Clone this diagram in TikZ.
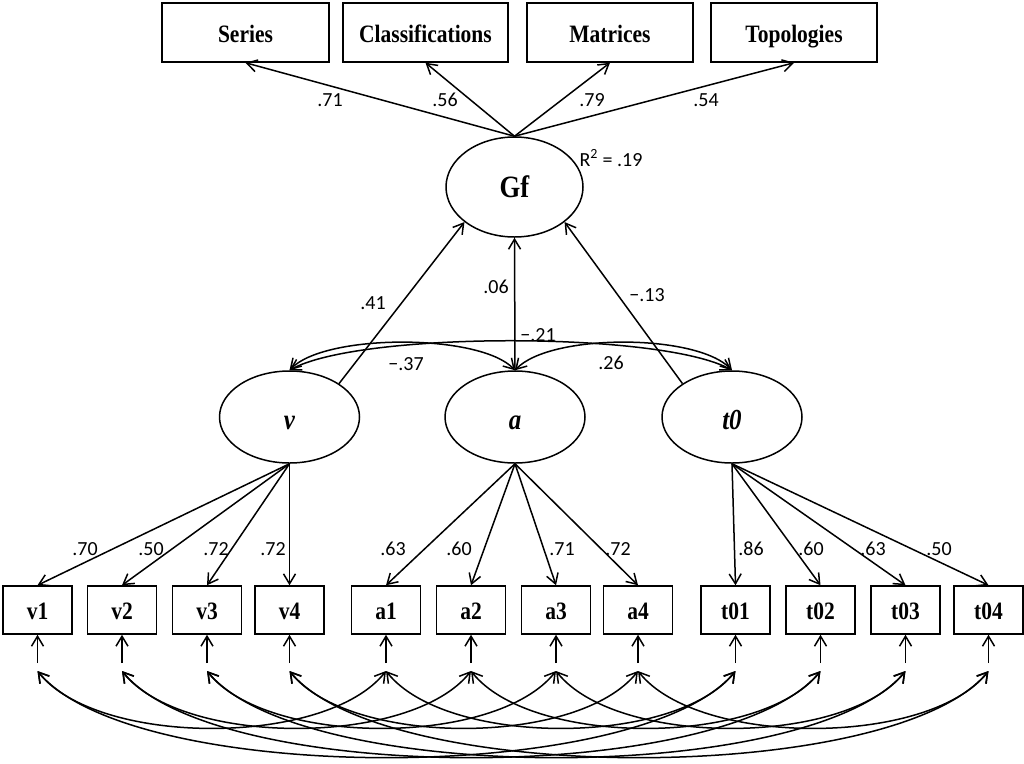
\documentclass[tikz,border=0pt]{standalone}
\usepackage{fontspec}
\setmainfont{Liberation Serif}
\newfontfamily\numfont{Carlito}
\newfontfamily\boxfont[FakeStretch=0.86]{Liberation Serif}
\usetikzlibrary{arrows.meta,shapes.geometric}
\begin{document}
\begin{tikzpicture}[x=1pt,y=-1pt, line width=1.5pt,
  >={Straight Barb[length=10pt,width=12pt]},
  obs/.style={draw, rectangle, minimum width=69pt, minimum height=48pt, inner sep=0pt, text height=20pt, text depth=1pt, font=\boxfont\fontsize{25}{27}\selectfont\bfseries},
  topbox/.style={draw, rectangle, minimum width=166pt, minimum height=59pt, inner sep=0pt, text height=20pt, text depth=1pt, font=\boxfont\fontsize{25}{27}\selectfont\bfseries},
  lat/.style={draw, ellipse, minimum width=140pt, minimum height=92pt, inner sep=0pt, text height=27pt, text depth=2pt, font=\boxfont\fontsize{29}{31}\selectfont\bfseries\itshape},
  num/.style={inner sep=0pt, font=\numfont\fontsize{20}{22}\selectfont}]
\useasboundingbox (0,0) rectangle (1024,763);
\fill[white] (0,0) rectangle (1024,763);

% top indicators
\node[topbox, minimum width=167pt] (series) at (245.5,32.5) {Series};
\node[topbox, minimum width=165pt] (class) at (425.5,32.5) {Classifications};
\node[topbox] (matrices) at (610,32.5) {Matrices};
\node[topbox] (topo) at (794,32.5) {Topologies};

% Gf
\node[lat, font=\boxfont\fontsize{31}{33}\selectfont\bfseries, text height=23pt, text depth=2pt, minimum width=137pt, minimum height=100pt] (gf) at (514.5,187) {Gf};
\node[num] (r2) at (611,158) {R\textsuperscript{2} = .19};

\foreach \n in {series,class,matrices,topo} \draw[->] (gf.north) -- (\n.south);
\node[num] (l71) at (330,100) {.71};
\node[num] (l56) at (445,100) {.56};
\node[num] (l79) at (592,100) {.79};
\node[num] (l54) at (706,100) {.54};

% latent factors
\node[lat] (v) at (289.5,417) {v};
\node[lat] (a) at (515,417) {a};
\node[lat, text height=26pt] (t0) at (732,417) {t0};

\draw[->] (v.34) -- (gf.215);
\draw[->] (a.north) -- (gf.south);
\draw[->] (t0.146) -- (gf.325);
\node[num] (l41) at (373,303) {.41};
\node[num] (l06) at (496,287) {.06};
\node[num] (l13) at (647,295) {−.13};

\draw[<->] (v.north) .. controls +(70,-39) and +(-70,-39) .. (t0.north);
\draw[<->] (v.north) .. controls +(35,-37) and +(-35,-37) .. (a.north);
\draw[<->] (a.north) .. controls +(35,-37) and +(-35,-37) .. (t0.north);
\node[num] (l21) at (538,335) {−.21};
\node[num] (l37) at (406,364) {−.37};
\node[num] (l26) at (611,363) {.26};

% observed indicators
\foreach \n/\x in {v1/37.5,v2/122,v3/207,v4/289.5,a1/386,a2/471,a3/556,a4/638,t01/735.5,t02/820.5,t03/905.5,t04/988.5}{
  \node[obs] (\n) at (\x,610) {\n};
  \coordinate (e\n) at (\x,663);
  \coordinate (c\n) at (\x,671);
  \draw[->] (e\n) -- (\n.south);
}
\foreach \n in {v1,v2,v3,v4} \draw[->] (v.south) -- (\n.north);
\foreach \n in {a1,a2,a3,a4} \draw[->] (a.south) -- (\n.north);
\foreach \n in {t01,t02,t03,t04} \draw[->] (t0.south) -- (\n.north);

\node[num] (lv1) at (85,549) {.70};
\node[num] (lv2) at (151,549) {.50};
\node[num] (lv3) at (216,549) {.72};
\node[num] (lv4) at (273,549) {.72};
\node[num] (la1) at (393,549) {.63};
\node[num] (la2) at (459,549) {.60};
\node[num] (la3) at (562,549) {.71};
\node[num] (la4) at (618,549) {.72};
\node[num] (lt1) at (751,549) {.86};
\node[num] (lt2) at (811,549) {.60};
\node[num] (lt3) at (873,549) {.63};
\node[num] (lt4) at (939,549) {.50};

% correlated residuals
\foreach \i in {1,2,3,4}{
  \draw[<->] (cv\i) .. controls +(60,76) and +(-60,76) .. (ca\i);
  \draw[<->] (cv\i) .. controls +(95,115) and +(-95,115) .. (ct0\i);
  \draw[<->] (ca\i) .. controls +(60,76) and +(-60,76) .. (ct0\i);
}
\end{tikzpicture}
\end{document}
